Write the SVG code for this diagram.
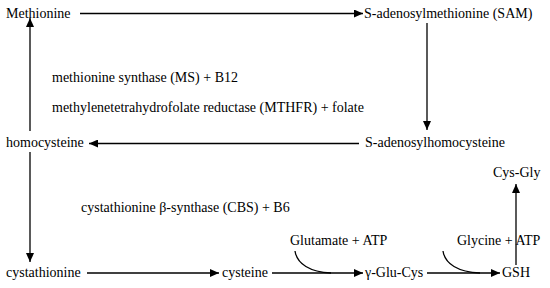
<svg xmlns="http://www.w3.org/2000/svg" width="550" height="288" viewBox="0 0 550 288">
<style>
.c{stroke:#000;stroke-width:1.3;fill:none}
</style>
<defs>
<marker id="ah" viewBox="0 0 9 8" refX="9" refY="4" markerWidth="9" markerHeight="8" markerUnits="userSpaceOnUse" orient="auto">
<path d="M0,0 L9,4 L0,8 z" fill="#000"/>
</marker>
</defs>
<rect width="550" height="288" fill="#fff"/>
<g id="connectors">
<line class="c" x1="80" y1="13.5" x2="363" y2="13.5" marker-end="url(#ah)"/>
<line class="c" x1="427" y1="23" x2="427" y2="130" marker-end="url(#ah)"/>
<line class="c" x1="359" y1="143.5" x2="89" y2="143.5" marker-end="url(#ah)"/>
<line class="c" x1="30" y1="131" x2="30" y2="18" marker-end="url(#ah)"/>
<line class="c" x1="30" y1="152" x2="30" y2="262" marker-end="url(#ah)"/>
<line class="c" x1="87" y1="273" x2="219" y2="273" marker-end="url(#ah)"/>
<line class="c" x1="272" y1="273" x2="363" y2="273" marker-end="url(#ah)"/>
<line class="c" x1="427" y1="273" x2="500" y2="273" marker-end="url(#ah)"/>
<line class="c" x1="516" y1="265" x2="516" y2="184" marker-end="url(#ah)"/>
<path class="c" d="M295,251 C297,264 310,272 331,273"/>
<path class="c" d="M443,251 C445,264 458,272 480,273"/>
</g>
<g font-family="Liberation Serif, DejaVu Serif, serif" font-size="14" fill="#000">
<g id="methionine"><text x="6" y="18">Methionine</text></g>
<g id="sam"><text x="364" y="18">S-adenosylmethionine (SAM)</text></g>
<g id="sah"><text x="365" y="147">S-adenosylhomocysteine</text></g>
<g id="homocysteine"><text x="6" y="147">homocysteine</text></g>
<g id="ms-label"><text x="52" y="82">methionine synthase (MS) + B12</text></g>
<g id="mthfr-label"><text x="52" y="112">methylenetetrahydrofolate reductase (MTHFR) + folate</text></g>
<g id="cbs-label"><text x="81" y="212">cystathionine β-synthase (CBS) + B6</text></g>
<g id="cystathionine"><text x="6" y="277">cystathionine</text></g>
<g id="cysteine"><text x="222" y="277">cysteine</text></g>
<g id="glutamate"><text x="290" y="245">Glutamate + ATP</text></g>
<g id="gluCys"><text x="365" y="277">γ-Glu-Cys</text></g>
<g id="glycine"><text x="457" y="245">Glycine + ATP</text></g>
<g id="gsh"><text x="502" y="277">GSH</text></g>
<g id="cysGly"><text x="493" y="177">Cys-Gly</text></g>
</g>
</svg>
